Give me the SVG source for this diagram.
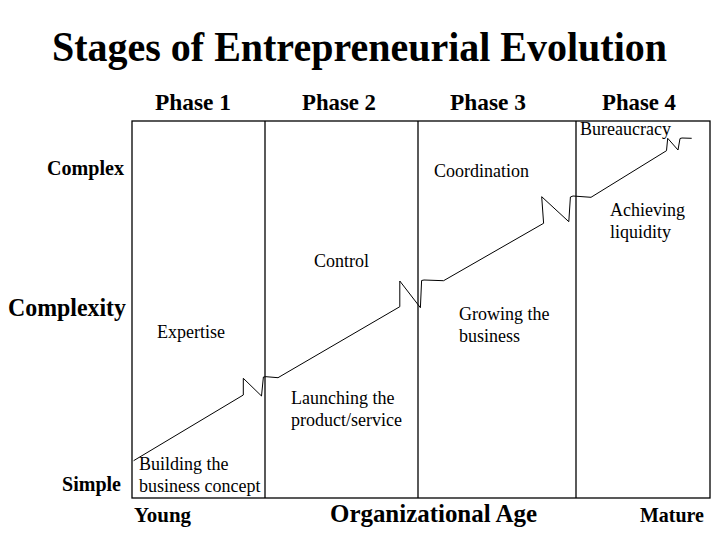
<svg xmlns="http://www.w3.org/2000/svg" width="720" height="540" viewBox="0 0 720 540">
<style>
  .t { font-family: "Liberation Serif", "Times New Roman", serif; fill: #000; }
  .title { font-size: 42px; font-weight: bold; }
  .ph { font-size: 23px; font-weight: bold; }
  .ax { font-size: 21px; font-weight: bold; }
  .lab { font-size: 18px; }
  .frame { fill: none; stroke: #000; stroke-width: 1.3; }
  .curve { fill: none; stroke: #000; stroke-width: 1; stroke-linejoin: miter; }
</style>
<rect width="720" height="540" fill="#fff"/>
<g id="title"><text class="t title" x="52" y="61" textLength="615" lengthAdjust="spacingAndGlyphs">Stages of Entrepreneurial Evolution</text></g>
<g id="phases">
  <text class="t ph" x="155" y="110" textLength="76" lengthAdjust="spacingAndGlyphs">Phase 1</text>
  <text class="t ph" x="302" y="110" textLength="74" lengthAdjust="spacingAndGlyphs">Phase 2</text>
  <text class="t ph" x="450" y="110" textLength="76" lengthAdjust="spacingAndGlyphs">Phase 3</text>
  <text class="t ph" x="602" y="110" textLength="74" lengthAdjust="spacingAndGlyphs">Phase 4</text>
</g>
<g id="frame">
  <rect class="frame" x="132" y="121" width="578" height="377"/>
  <line class="frame" x1="265" y1="121" x2="265" y2="498"/>
  <line class="frame" x1="418" y1="121" x2="418" y2="498"/>
  <line class="frame" x1="576" y1="121" x2="576" y2="498"/>
</g>
<g id="axis-labels">
  <text class="t ax" x="47" y="175" textLength="77" lengthAdjust="spacingAndGlyphs">Complex</text>
  <text class="t ax" x="8" y="316" style="font-size:25px" textLength="118" lengthAdjust="spacingAndGlyphs">Complexity</text>
  <text class="t ax" x="62" y="491" textLength="59" lengthAdjust="spacingAndGlyphs">Simple</text>
  <text class="t ax" x="134" y="522" textLength="57" lengthAdjust="spacingAndGlyphs">Young</text>
  <text class="t ax" x="330" y="522" style="font-size:25px" textLength="207" lengthAdjust="spacingAndGlyphs">Organizational Age</text>
  <text class="t ax" x="640" y="522" textLength="64" lengthAdjust="spacingAndGlyphs">Mature</text>
</g>
<g id="connectors">
  <path class="curve" d="M133.6,460.7 L243.3,395 L243.3,378.3 L261.5,396 L263.4,377 L266,376.7 L278,377.7 L399.8,306.7 L399.8,281 L420.4,307.7 L421.6,280.5 L424,280 L443.6,280.7 L543.6,223.3 L541.7,196.7 L568.8,221.7 L570.4,197 L573,196 L591,197.3 L666.5,150.7 L667.7,138.3 L678,150 L680,138.5 L682,138 L691.7,138.3"/>
</g>
<g id="stage-building"><text class="t lab" x="139" y="470">Building the</text><text class="t lab" x="139" y="492">business concept</text></g>
<g id="stage-launching"><text class="t lab" x="291" y="404">Launching the</text><text class="t lab" x="291" y="426">product/service</text></g>
<g id="stage-growing"><text class="t lab" x="459" y="320">Growing the</text><text class="t lab" x="459" y="342">business</text></g>
<g id="stage-liquidity"><text class="t lab" x="610" y="216">Achieving</text><text class="t lab" x="610" y="238">liquidity</text></g>
<g id="crisis-expertise"><text class="t lab" x="157" y="338">Expertise</text></g>
<g id="crisis-control"><text class="t lab" x="314" y="267">Control</text></g>
<g id="crisis-coordination"><text class="t lab" x="434" y="177">Coordination</text></g>
<g id="crisis-bureaucracy"><text class="t lab" x="580" y="135">Bureaucracy</text></g>
</svg>
